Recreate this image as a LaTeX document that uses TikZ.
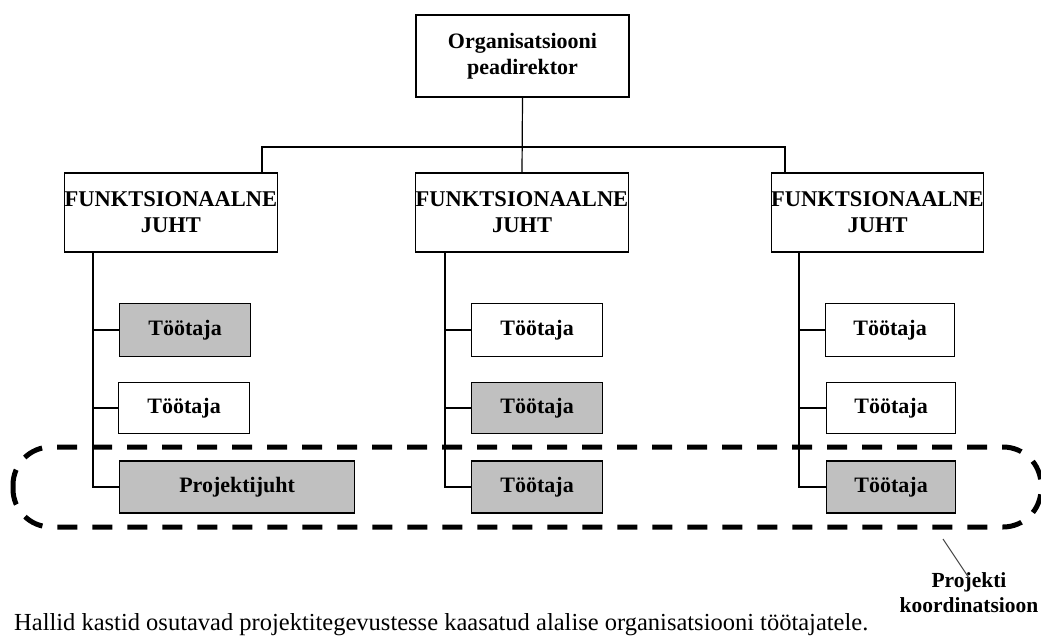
\documentclass[tikz,border=0pt]{standalone}
\usepackage{xcolor}
\usepackage{fontspec}
\setmainfont{Liberation Serif}
\usepackage{tikz}
\usetikzlibrary{positioning}

\definecolor{boxgray}{RGB}{192,192,192}

\tikzset{
  orgbox/.style={draw, line width= 1.2, inner sep=0, align=center, text centered,
    font=\fontsize{22}{26}\selectfont\bfseries},
  greybox/.style={orgbox, fill=boxgray},
  link/.style={line width= 1.2}
}

\begin{document}
\begin{tikzpicture}[x=1pt, y=-1pt]
\useasboundingbox (0,0) rectangle (1041,639);

% nodes %
\node[orgbox, minimum width=213, minimum height=82] (dir) at (522.5,56) {Organisatsiooni\\peadirektor};
\node[orgbox, minimum width=208, minimum height=79, font=\fontsize{22.5}{26}\selectfont\bfseries] (fj1) at (171,212.5) {FUNKTSIONAALNE\\JUHT};
\node[orgbox, minimum width=210, minimum height=79, font=\fontsize{22.5}{26}\selectfont\bfseries] (fj2) at (522,212.5) {FUNKTSIONAALNE\\JUHT};
\node[orgbox, minimum width=209, minimum height=79, font=\fontsize{22.5}{26}\selectfont\bfseries] (fj3) at (877.5,212.5) {FUNKTSIONAALNE\\JUHT};

\node[greybox, anchor=west, minimum width=131, minimum height=53] (t11) at (119,330) {T\"o\"otaja};
\node[orgbox, anchor=west, minimum width=131, minimum height=51] (t12) at (118,408) {T\"o\"otaja};
\node[greybox, anchor=west, minimum width=235, minimum height=52] (pj) at (119,487) {Projektijuht};

\node[orgbox, anchor=west, minimum width=131, minimum height=53] (t21) at (471,330) {T\"o\"otaja};
\node[greybox, anchor=west, minimum width=131, minimum height=51] (t22) at (471,408) {T\"o\"otaja};
\node[greybox, anchor=west, minimum width=131, minimum height=52] (t23) at (471,487) {T\"o\"otaja};

\node[orgbox, anchor=west, minimum width=129, minimum height=53] (t31) at (825,330) {T\"o\"otaja};
\node[orgbox, anchor=west, minimum width=129, minimum height=51] (t32) at (826,408) {T\"o\"otaja};
\node[greybox, anchor=west, minimum width=129, minimum height=52] (t33) at (826,487) {T\"o\"otaja};

\node[anchor=base west, inner sep=0, font=\fontsize{24.5}{28}\selectfont] (note) at (14,630)
  {Hallid kastid osutavad projektitegevustesse kaasatud alalise organisatsiooni t\"o\"otajatele.};
\node[anchor=base, inner sep=0, align=center, font=\fontsize{21.5}{25}\selectfont\bfseries] (pk) at (969,612)
  {Projekti\\koordinatsioon};

\coordinate (d1) at (262,147);
\coordinate (d3) at (785,147);
\coordinate (b1) at (93,0);
\coordinate (b2) at (445,0);
\coordinate (b3) at (799,0);
\coordinate (p1) at (943,539);
\coordinate (p2) at (969,578);

% edges %
\draw[link] (dir.south) -- (fj2.north);
\draw[link] (d1 |- fj1.north) -- (d1) -- (d3) -- (d3 |- fj3.north);

\draw[link] (b1 |- fj1.south) |- (pj.west);
\draw[link] (b1 |- t11) -- (t11.west);
\draw[link] (b1 |- t12) -- (t12.west);

\draw[link] (b2 |- fj2.south) |- (t23.west);
\draw[link] (b2 |- t21) -- (t21.west);
\draw[link] (b2 |- t22) -- (t22.west);

\draw[link] (b3 |- fj3.south) |- (t33.west);
\draw[link] (b3 |- t31) -- (t31.west);
\draw[link] (b3 |- t32) -- (t32.west);

% project group %
\draw[line width= 5, dash pattern=on 20 off 15, rounded corners=38] (13,447) rectangle (1041,527);
\draw[line width= 1, black!70] (p1) -- (p2);

\end{tikzpicture}
\end{document}
